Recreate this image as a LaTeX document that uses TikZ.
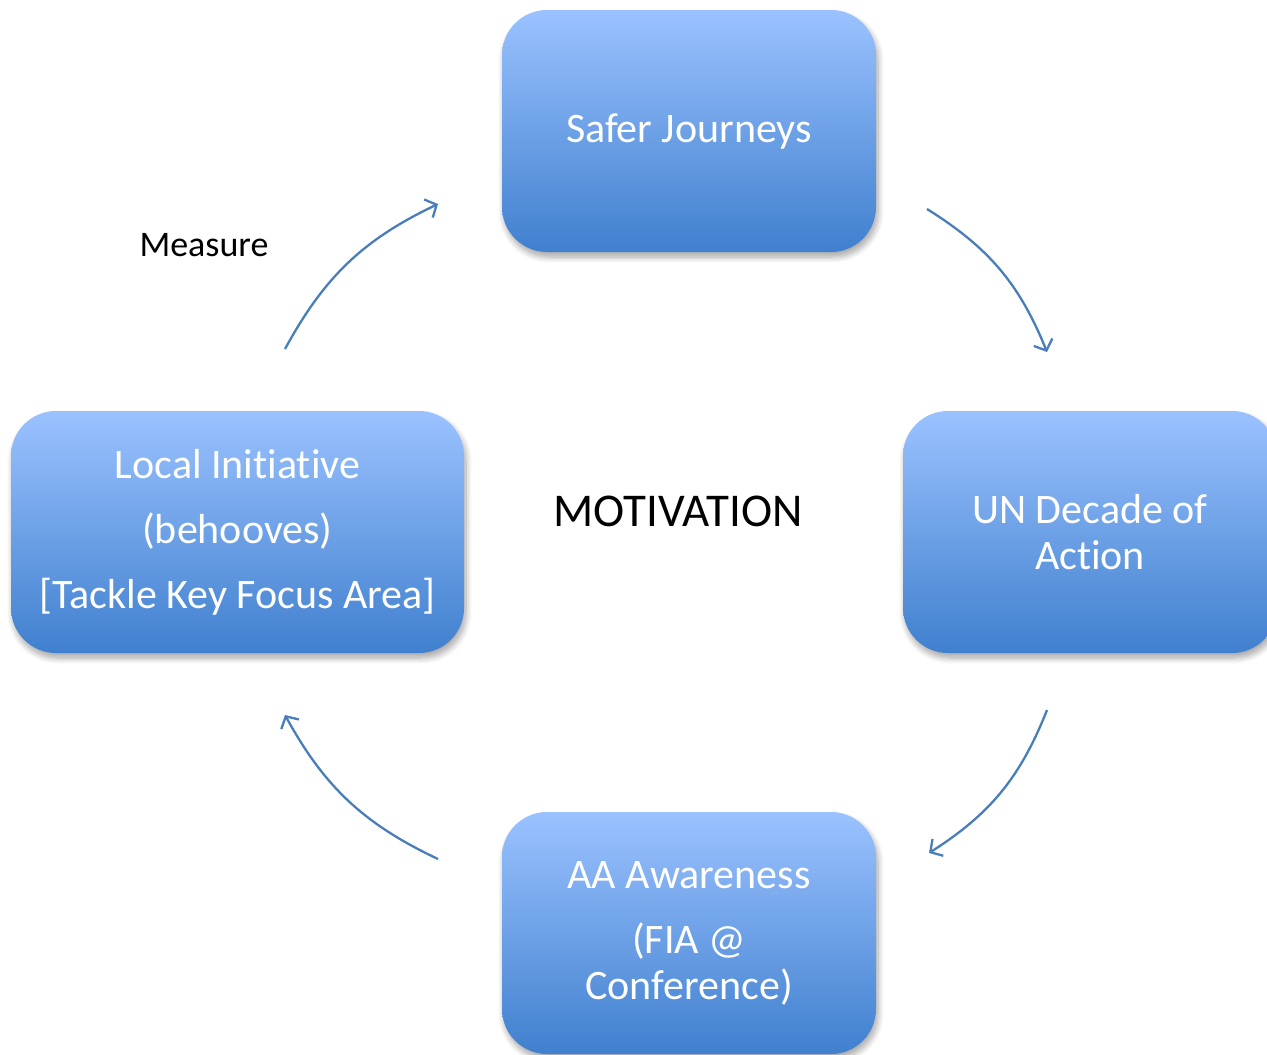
\documentclass[tikz,border=0pt]{standalone}
\usepackage{fontspec}
\setmainfont[Ligatures={NoCommon,NoContextual},RawFeature={-liga;-clig;-dlig}]{Carlito}
\usetikzlibrary{arrows.meta,shadows.blur}
\definecolor{boxtop}{RGB}{155,194,255}
\definecolor{boxbot}{RGB}{64,128,206}
\definecolor{arrowc}{RGB}{74,126,187}
\tikzset{
  box/.style={rounded corners=45pt, top color=boxtop, bottom color=boxbot, draw=none,
    text=white, align=center, font=\fontsize{42}{46}\selectfont,
    blur shadow={shadow xshift=2pt, shadow yshift=-5pt, shadow blur steps=8, shadow opacity=35, shadow blur radius=6pt}},
  cyc/.style={draw=arrowc, line width=2.3pt, -{Straight Barb[length=9pt,width=20pt,line width=2.3pt]}},
  lbl/.style={text=black}
}
\begin{document}
\begin{tikzpicture}[x=1pt,y=-1pt]
\useasboundingbox (0,0) rectangle (1267,1055);
\clip (0,0) rectangle (1267,1055);
\node[box, minimum width=374pt, minimum height=242pt] (sj) at (689,131) {Safer Journeys};
\node[box, minimum width=374pt, minimum height=242pt] (un) at (1090,532) {UN Decade of\\Action};
\node[box, minimum width=374pt, minimum height=242pt] (aa) at (689,933) {AA Awareness\\[19pt](FIA @\\Conference)};
\node[box, minimum width=453pt, minimum height=242pt] (li) at (237.5,532) {Local Initiative\\[19pt](behooves)\\[19pt][Tackle Key Focus Area]};
\node[lbl, font=\fontsize{47}{54}\selectfont] (mot) at (678,511) {MOTIVATION};
\node[lbl, font=\fontsize{36}{42}\selectfont] (meas) at (204,245) {Measure};
\coordinate (a1s) at (285,349); \coordinate (a1e) at (438,204);
\coordinate (a2s) at (927,209); \coordinate (a2e) at (1047,352);
\coordinate (a3s) at (1047,710); \coordinate (a3e) at (929,853);
\coordinate (a4s) at (438,859); \coordinate (a4e) at (285,715);
\draw[cyc] (a1s) to[bend left=18] (a1e);
\draw[cyc] (a2s) to[bend left=18] (a2e);
\draw[cyc] (a3s) to[bend left=18] (a3e);
\draw[cyc] (a4s) to[bend left=18] (a4e);
\end{tikzpicture}
\end{document}
